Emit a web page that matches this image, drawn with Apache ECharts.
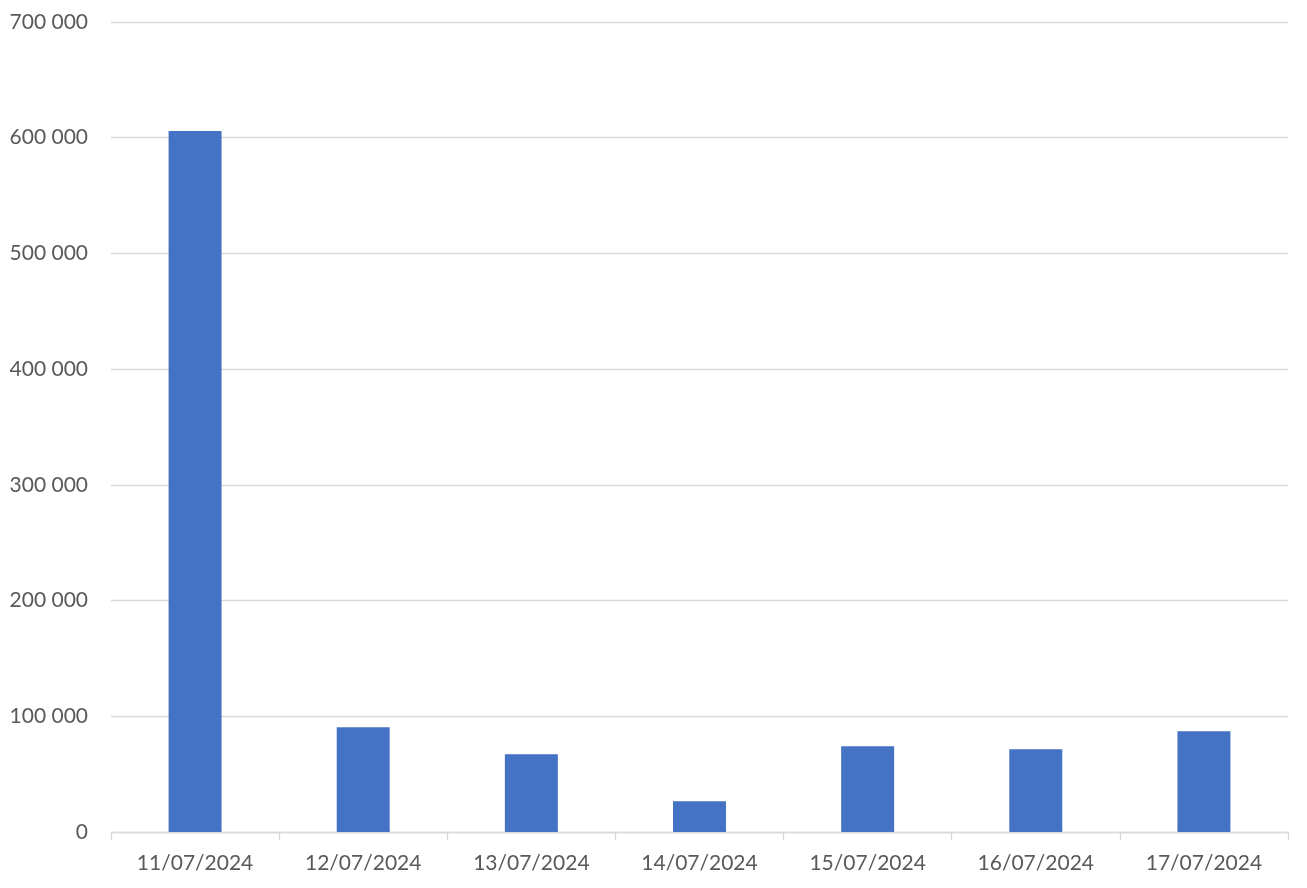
<!DOCTYPE html>
<html>
<head>
<meta charset="utf-8">
<script src="https://cdn.jsdelivr.net/npm/echarts@6/dist/echarts.min.js"></script>
<style>html,body{margin:0;padding:0;background:#fff}#c{width:1307px;height:888px}</style>
</head>
<body>
<div id="c"></div>
<script>
const categories = ['11/07/2024','12/07/2024','13/07/2024','14/07/2024','15/07/2024','16/07/2024','17/07/2024'];
const values = [605800, 90500, 67200, 26500, 74100, 71500, 87100];

const chart = echarts.init(document.getElementById('c'));
chart.setOption({
  animation: false,
  grid: {left: 111, right: 19, top: 22, bottom: 56, containLabel: false},
  xAxis: {
    type: 'category',
    data: categories,
    axisLine: {lineStyle: {color: '#d9d9d9', width: 1.3}},
    axisTick: {show: true, length: 8, lineStyle: {color: '#d9d9d9', width: 1.3}},
    axisLabel: {color: '#595959', fontFamily: 'Lato', fontSize: 21, margin: 21}
  },
  yAxis: {
    type: 'value',
    min: 0, max: 700000, interval: 100000,
    axisLine: {show: false},
    axisTick: {show: false},
    splitLine: {lineStyle: {color: '#d9d9d9', width: 1.3}},
    axisLabel: {
      color: '#595959', fontFamily: 'Lato', fontSize: 21, margin: 23,
      formatter: v => String(v).replace(/\B(?=(\d{3})+(?!\d))/g, ' ')
    }
  },
  series: [{
    type: 'bar',
    data: values,
    barWidth: '31.5%',
    itemStyle: {color: '#4472c4'}
  }]
});
</script>
</body>
</html>
